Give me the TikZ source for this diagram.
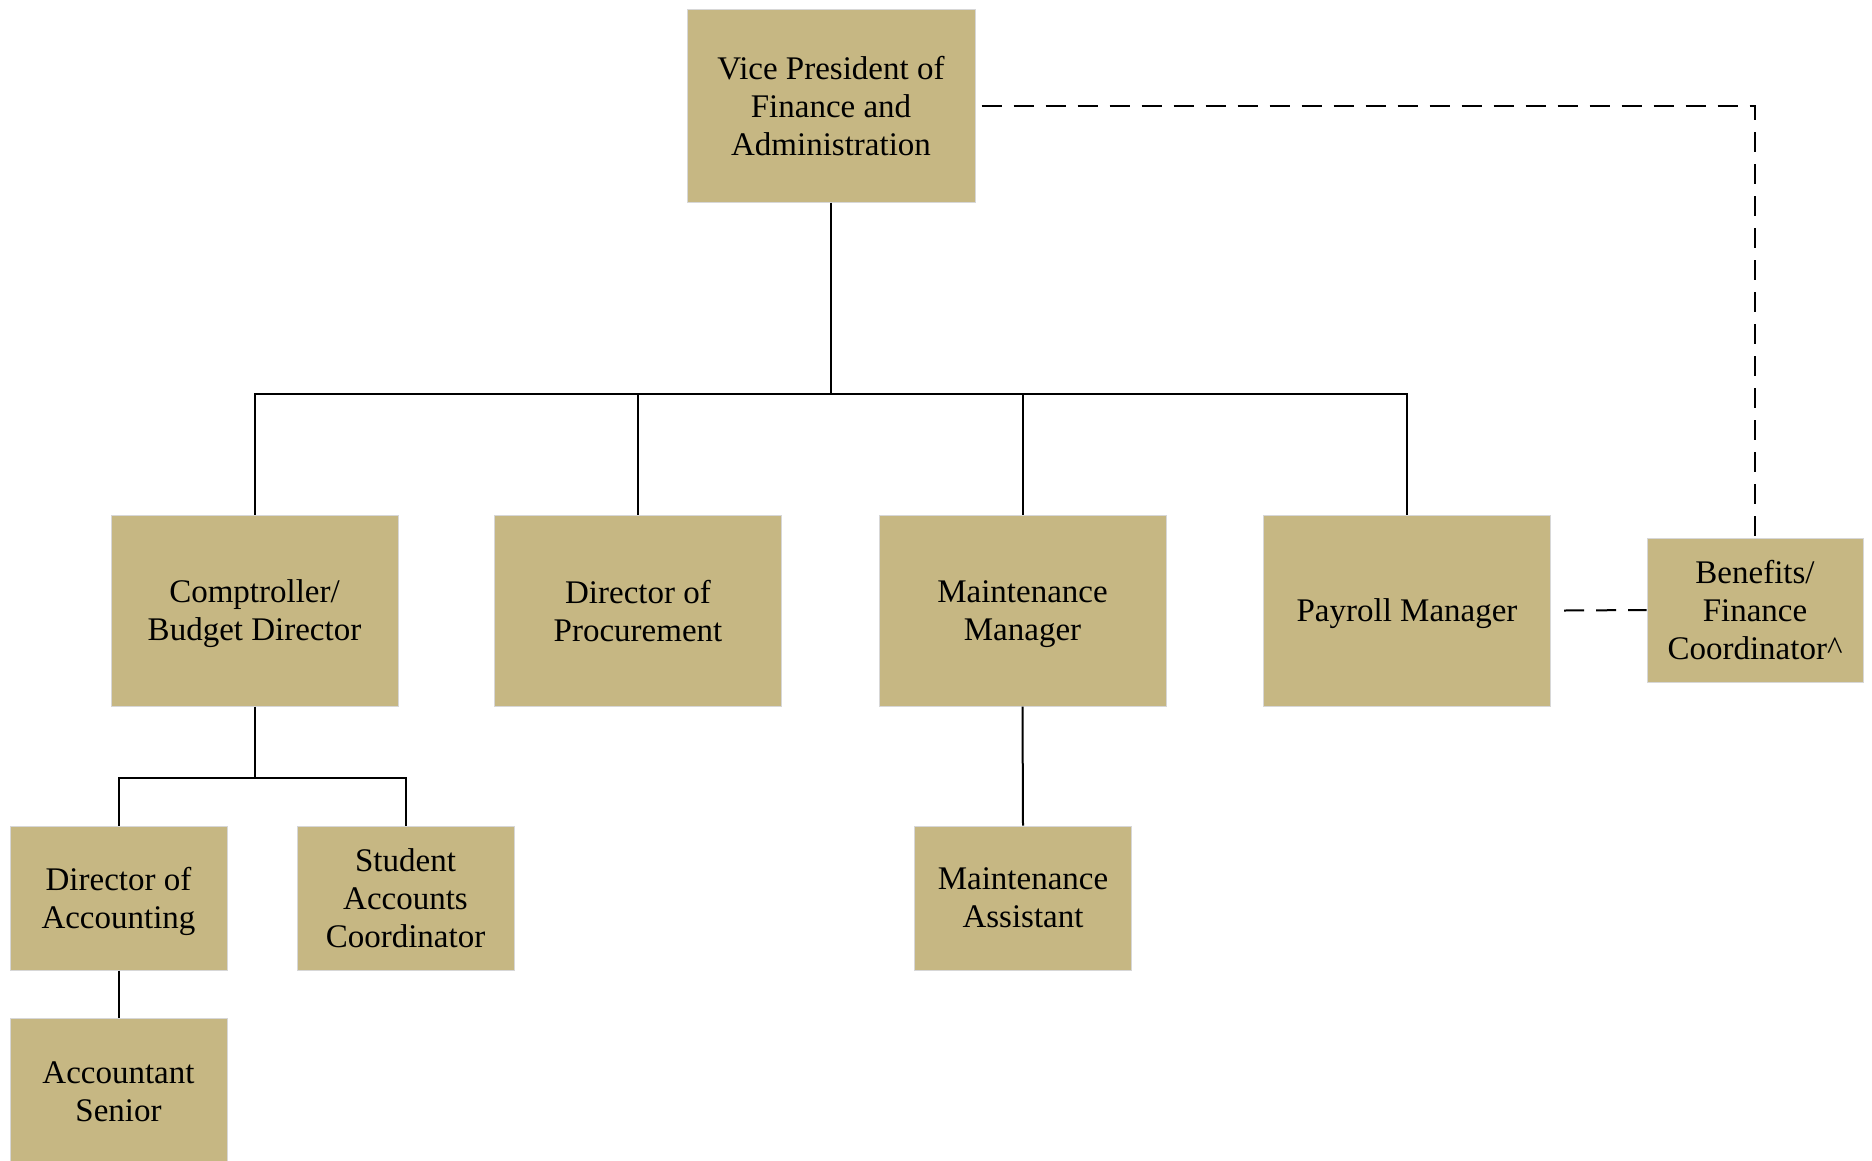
\documentclass[tikz,border=0pt]{standalone}
\usepackage{fontspec}
\setmainfont{Liberation Serif}
\definecolor{boxfill}{RGB}{198,183,131}
\definecolor{boxline}{RGB}{215,215,215}
\begin{document}
\begin{tikzpicture}[x=1pt,y=-1pt,
  orgbox/.style={rectangle, fill=boxfill, draw=boxline, line width=1pt, inner sep=0pt,
    align=center, text depth=0pt, font=\fontsize{33}{38}\selectfont},
  big/.style={orgbox, minimum width=287pt, minimum height=191pt},
  small/.style={orgbox, minimum width=217pt, minimum height=144pt},
  link/.style={line width=2pt, black},
  dotlink/.style={line width=2pt, black, dash pattern=on 20pt off 12pt}]
\useasboundingbox (0,0) rectangle (1872,1160);
\node[big, minimum width=288pt, minimum height=193pt] (vp) at (831,105.5) {Vice President of\\Finance and\\Administration};
\node[big] (comp) at (254.5,610.5) {Comptroller/\\Budget Director};
\node[big] (proc) at (638,610.5) {Director of\\Procurement};
\node[big] (mm) at (1022.5,610.5) {Maintenance\\Manager};
\node[big] (pay) at (1407,610.5) {Payroll Manager};
\node[small, minimum width=216pt] (ben) at (1755,610) {Benefits/\\Finance\\Coordinator\^{}};
\node[small] (da) at (118.5,898) {Director of\\Accounting};
\node[small] (sa) at (405.5,898) {Student\\Accounts\\Coordinator};
\node[small] (ma) at (1023,898) {Maintenance\\Assistant};
\node[small, minimum height=148pt] (as) at (118.5,1092) {Accountant\\Senior};
\coordinate (bus) at (831,394);
\coordinate (bus2) at (254.5,778);
\draw[link] (vp.south) -- (bus);
\draw[link] (comp.north) |- (bus);
\draw[link] (proc.north) |- (bus);
\draw[link] (mm.north) |- (bus);
\draw[link] (pay.north) |- (bus);
\draw[link] (comp.south) -- (bus2);
\draw[link] (da.north) |- (bus2);
\draw[link] (sa.north) |- (bus2);
\draw[link] (da.south) -- (as.north);
\draw[link] (mm.south) -- (ma.north);
\draw[dotlink] ([xshift=6pt]vp.east) -| (ben.north);
\draw[dotlink] ([xshift=13pt]pay.east) -- (ben.west);
\end{tikzpicture}
\end{document}
